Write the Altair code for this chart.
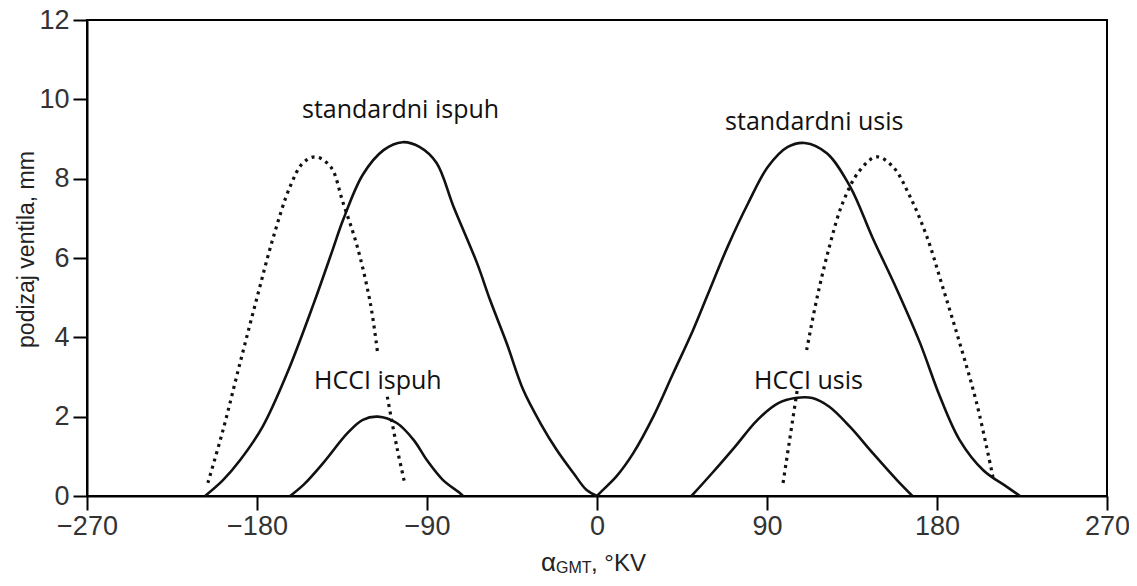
import altair as alt
import pandas as pd

# ---- data ----
x_ticks = [-270, -180, -90, 0, 90, 180, 270]
y_ticks = [0, 2, 4, 6, 8, 10, 12]

std_ispuh_x = [-207.5, -198, -189, -177, -164, -150, -140, -134.5, -124, -113, -103, -94, -85, -76, -63.5, -56.6, -47.8, -39, -30, -21.3, -12.5, -5.5, 0]
std_ispuh_y = [0, 0.4, 0.9, 1.75, 3.1, 4.85, 6.2, 6.95, 8.1, 8.72, 8.92, 8.8, 8.4, 7.3, 5.87, 4.94, 3.85, 2.67, 1.84, 1.16, 0.58, 0.15, 0]

std_usis_x = [0, 1.6, 10.4, 19.2, 29.8, 40.4, 51, 58.8, 69.3, 80, 90.5, 101, 110, 121.7, 134, 146, 158.8, 171, 181.6, 192, 204.5, 217, 224]
std_usis_y = [0, 0.08, 0.5, 1.08, 2.0, 3.1, 4.2, 5.1, 6.3, 7.38, 8.3, 8.8, 8.9, 8.64, 7.8, 6.5, 5.2, 3.86, 2.5, 1.41, 0.65, 0.23, 0]

hcci_ispuh_x = [-162.5, -155, -145, -132, -124, -116, -106, -97, -90, -81.5, -72.5, -71]
hcci_ispuh_y = [0, 0.3, 0.83, 1.59, 1.92, 2.0, 1.84, 1.41, 0.9, 0.4, 0.07, 0]

hcci_usis_x = [50, 61, 73, 85, 96, 105, 114, 123, 134, 146, 158.8, 167]
hcci_usis_y = [0, 0.58, 1.24, 1.92, 2.34, 2.47, 2.47, 2.25, 1.74, 1.08, 0.4, 0]

dot_ispuh_a_x = [-206, -198, -189, -180, -171.5, -162.5, -155.6, -149, -141, -134.5, -127, -120, -116]
dot_ispuh_a_y = [0.33, 1.66, 3.35, 5.0, 6.5, 7.8, 8.4, 8.55, 8.3, 7.4, 6.3, 4.86, 3.55]
dot_ispuh_b_x = [-111, -106, -101.6]
dot_ispuh_b_y = [2.5, 1.24, 0.28]

dot_usis_a_x = [98.5, 106]
dot_usis_a_y = [0.33, 2.67]
dot_usis_b_x = [111, 116.5, 123, 130, 139, 148, 156.7, 165.7, 174.7, 183, 192, 201, 209.6]
dot_usis_b_y = [3.68, 5.0, 6.28, 7.38, 8.2, 8.55, 8.3, 7.55, 6.53, 5.27, 3.86, 2.34, 0.48]

label_text = ["standardni ispuh", "standardni usis", "HCCI ispuh", "HCCI usis"]
label_x = [-104, 115, -116, 112]
label_y = [9.73, 9.43, 2.9, 2.9]


def frame(xs, ys, seg):
    return pd.DataFrame({"x": xs, "y": ys, "seg": seg})


solid_df = pd.concat([
    frame(std_ispuh_x, std_ispuh_y, "std_ispuh"),
    frame(std_usis_x, std_usis_y, "std_usis"),
    frame(hcci_ispuh_x, hcci_ispuh_y, "hcci_ispuh"),
    frame(hcci_usis_x, hcci_usis_y, "hcci_usis"),
], ignore_index=True)

dotted_df = pd.concat([
    frame(dot_ispuh_a_x, dot_ispuh_a_y, "dia"),
    frame(dot_ispuh_b_x, dot_ispuh_b_y, "dib"),
    frame(dot_usis_a_x, dot_usis_a_y, "dua"),
    frame(dot_usis_b_x, dot_usis_b_y, "dub"),
], ignore_index=True)

labels_df = pd.DataFrame({"text": label_text, "x": label_x, "y": label_y})

axis_common = dict(
    domainColor="black", domainWidth=2, tickColor="black", tickWidth=2, tickSize=14,
    labelFont="Liberation Sans", labelFontSize=27, labelColor="#333",
    grid=False, labelFlush=False, labelOverlap=False,
)

x_enc = alt.X("x:Q", scale=alt.Scale(domain=[-270, 270], nice=False, zero=False),
              axis=alt.Axis(values=x_ticks, title="", labelPadding=3, **axis_common))
y_enc = alt.Y("y:Q", scale=alt.Scale(domain=[0, 12], nice=False),
              axis=alt.Axis(values=y_ticks, title="podizaj ventila, mm", titleFont="Liberation Sans",
                            titleFontSize=23, titleFontWeight="normal", titleColor="#222",
                            titleX=-54, titleY=229, titleAngle=270, titleBaseline="alphabetic",
                            titleAlign="center", labelPadding=4, **axis_common))

solid = alt.Chart(solid_df).mark_line(color="#111", strokeWidth=2.6, interpolate="catmull-rom").encode(
    x=x_enc, y=y_enc, detail="seg:N")

dotted = alt.Chart(dotted_df).mark_line(color="#111", strokeWidth=3.2, strokeDash=[3, 4.5],
                                        interpolate="catmull-rom").encode(
    x="x:Q", y="y:Q", detail="seg:N")

labels = alt.Chart(labels_df).mark_text(font="Open Sans", fontSize=25, color="#111",
                                         baseline="middle", align="center").encode(
    x="x:Q", y="y:Q", text="text:N")

title_parts = pd.DataFrame({"x": [0]})
t_alpha = alt.Chart(title_parts).mark_text(text="α", font="Liberation Sans", fontSize=26, color="#222",
                                           align="left", baseline="alphabetic", dx=-56, clip=False).encode(
    x="x:Q", y=alt.value(551))
t_sub = alt.Chart(title_parts).mark_text(text="GMT", font="Liberation Sans", fontSize=16, color="#222",
                                         align="left", baseline="alphabetic", dx=-41, clip=False).encode(
    x="x:Q", y=alt.value(553))
t_rest = alt.Chart(title_parts).mark_text(text=", °KV", font="Liberation Sans", fontSize=24, color="#222",
                                          align="left", baseline="alphabetic", dx=-6, clip=False).encode(
    x="x:Q", y=alt.value(551))

chart = alt.layer(solid, dotted, labels, t_alpha, t_sub, t_rest).properties(
    width=1020, height=476,
    autosize=alt.AutoSizeParams(type="none"),
    padding={"left": 79, "top": 12, "right": 22, "bottom": 80},
).configure_view(stroke="black", strokeWidth=2)

chart.save("out.html", embed_options={"renderer": "svg", "actions": False})
